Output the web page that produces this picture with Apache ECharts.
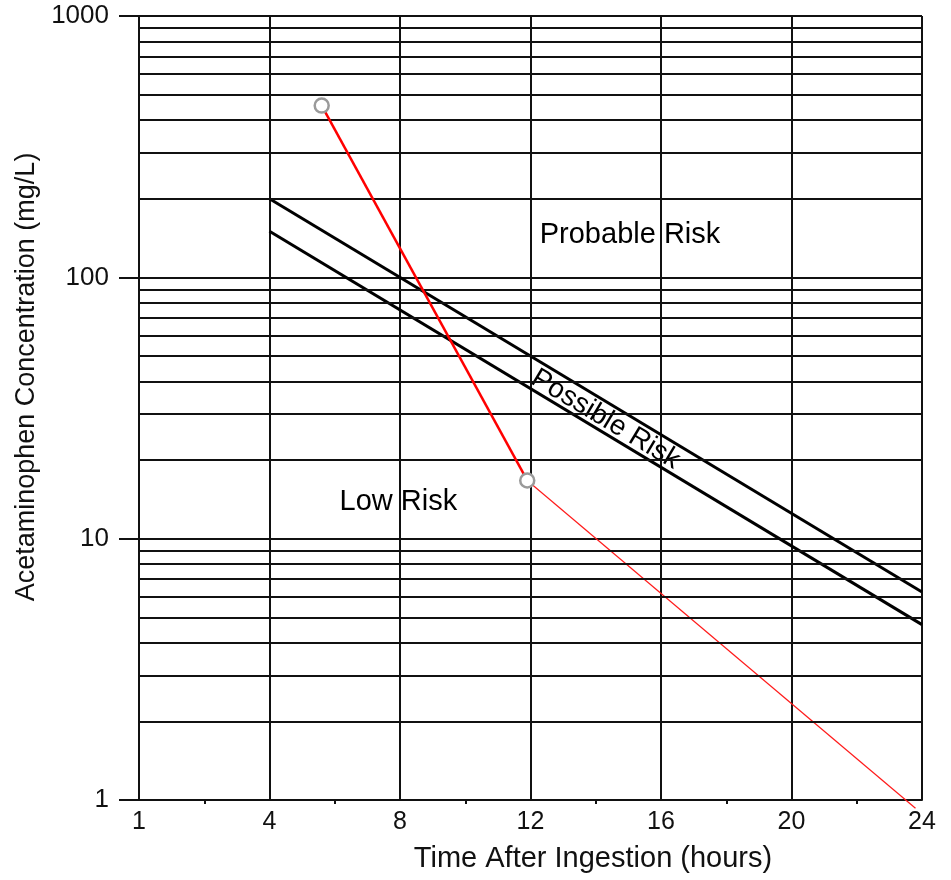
<!DOCTYPE html>
<html>
<head>
<meta charset="utf-8">
<script src="https://cdn.jsdelivr.net/npm/echarts@6/dist/echarts.min.js"></script>
<style>
  html, body { margin: 0; padding: 0; background: #fff; }
  #chart { width: 951px; height: 880px; }
</style>
</head>
<body>
<div id="chart"></div>
<script>
// hours after ingestion (left edge is labelled "1" on the original nomogram)
const hourTicks = [0, 4, 8, 12, 16, 20, 24]
const hourLabels = ['1', '4', '8', '12', '16', '20', '24']

// horizontal rulings between the decades (mg/L)
const gridLevels = [
  2, 3, 4, 5, 6, 7, 8, 9,
  20, 30, 40, 50, 60, 70, 80, 90,
  200, 300, 400, 500, 600, 700, 800, 900
]

// treatment lines
const probableLine = [[4, 200], [24, 6.25]]
const possibleLine = [[4, 150], [24, 4.69]]

// patient levels and projected decay
const patientLevels = [[5.6, 454], [11.9, 16.7]]
const patientProjection = [[11.9, 16.7], [23.8, 0.93]]

// region labels [hour, mg/L, text]
const regionNotes = [
  [15.05, 145, 'Probable Risk'],
  [7.95, 13.8, 'Low Risk']
]
const bandNote = [[14.3, 28.6, 'Possible Risk']]

const FONT = '"Liberation Sans", Arial, Helvetica, sans-serif'
const INK = '#111'

const chart = echarts.init(document.getElementById('chart'))

chart.setOption({
  animation: false,
  backgroundColor: '#fff',
  textStyle: { fontFamily: FONT },
  grid: { left: 139, right: 29, top: 16, bottom: 80 },
  xAxis: {
    type: 'value',
    min: 0,
    max: 24,
    interval: 4,
    name: 'Time After Ingestion (hours)',
    nameLocation: 'middle',
    nameGap: 44,
    nameTextStyle: { fontSize: 29, color: INK, fontFamily: FONT, padding: [0, 0, 0, 125] },
    axisLine: { show: true, lineStyle: { color: INK, width: 2 } },
    axisTick: { show: false },
    minorTick: { show: true, splitNumber: 2, length: 4, lineStyle: { color: INK, width: 2 } },
    axisLabel: {
      fontSize: 25,
      color: INK,
      margin: 10,
      formatter: v => {
        const i = hourTicks.indexOf(v)
        return i >= 0 ? hourLabels[i] : ''
      }
    },
    splitLine: { show: true, lineStyle: { color: INK, width: 2 } }
  },
  yAxis: {
    type: 'log',
    logBase: 10,
    min: 1,
    max: 1000,
    name: 'Acetaminophen Concentration (mg/L)',
    nameLocation: 'middle',
    nameGap: 78,
    nameTextStyle: { fontSize: 27, color: INK, fontFamily: FONT, padding: [0, 0, 0, 62] },
    axisLine: { show: true, lineStyle: { color: INK, width: 2 } },
    axisTick: { show: true, length: 20, lineStyle: { color: INK, width: 2 } },
    axisLabel: { fontSize: 26, color: INK, margin: 30, formatter: v => String(v) },
    splitLine: { show: true, lineStyle: { color: INK, width: 2 } }
  },
  series: [
    {
      name: 'rulings',
      type: 'line',
      data: [],
      silent: true,
      markLine: {
        silent: true,
        symbol: ['none', 'none'],
        label: { show: false },
        lineStyle: { color: INK, width: 2, type: 'solid' },
        emphasis: { disabled: true },
        data: gridLevels.map(v => ({ yAxis: v }))
      }
    },
    {
      name: 'Probable',
      type: 'line',
      data: probableLine,
      showSymbol: false,
      silent: true,
      lineStyle: { color: '#000', width: 3 }
    },
    {
      name: 'Possible',
      type: 'line',
      data: possibleLine,
      showSymbol: false,
      silent: true,
      lineStyle: { color: '#000', width: 3 }
    },
    {
      name: 'Projection',
      type: 'line',
      data: patientProjection,
      showSymbol: false,
      silent: true,
      clip: false,
      lineStyle: { color: '#ff1a1a', width: 1.2 }
    },
    {
      name: 'Patient',
      type: 'line',
      data: patientLevels,
      symbol: 'circle',
      symbolSize: 14,
      showSymbol: true,
      silent: true,
      z: 5,
      lineStyle: { color: '#ff0000', width: 2.5 },
      itemStyle: { color: '#fff', borderColor: '#9a9a9a', borderWidth: 2.5 }
    },
    {
      name: 'Regions',
      type: 'scatter',
      symbolSize: 0,
      silent: true,
      itemStyle: { opacity: 1 },
      data: regionNotes.map(d => ({ value: [d[0], d[1]], name: d[2] })),
      label: {
        show: true,
        position: 'inside',
        formatter: p => p.name,
        fontSize: 29,
        color: '#000',
        opacity: 1,
        fontFamily: FONT
      }
    },
    {
      name: 'Band',
      type: 'scatter',
      symbolSize: 0,
      silent: true,
      itemStyle: { opacity: 1 },
      data: bandNote.map(d => ({ value: [d[0], d[1]], name: d[2] })),
      label: {
        show: true,
        position: 'inside',
        rotate: -31,
        formatter: p => p.name,
        fontSize: 28,
        color: '#000',
        opacity: 1,
        fontFamily: FONT
      }
    }
  ]
})
</script>
</body>
</html>
